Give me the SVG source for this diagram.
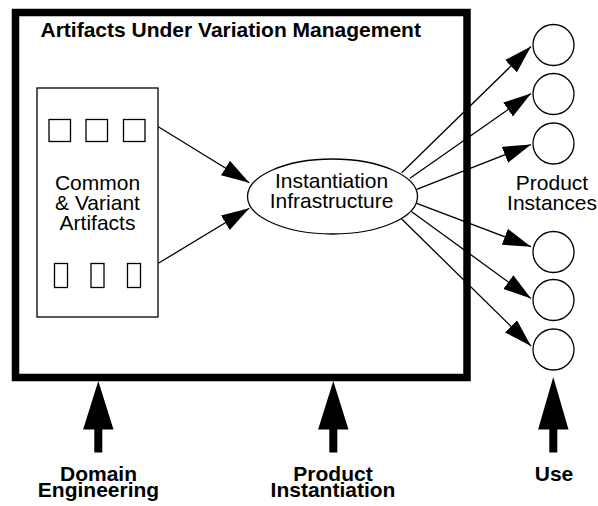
<svg xmlns="http://www.w3.org/2000/svg" width="598" height="506" viewBox="0 0 598 506">
<style>
.t{font-family:"Liberation Sans",Arial,sans-serif;font-size:21px;fill:#000;text-anchor:middle}
.b{font-weight:bold}
.thin{fill:#fff;stroke:#000;stroke-width:1.3}
.c{fill:none;stroke:#000;stroke-width:1.3;marker-end:url(#ah)}
.fat{fill:#000;stroke:none}
</style>
<defs>
<marker id="ah" markerUnits="userSpaceOnUse" markerWidth="30" markerHeight="20" refX="28" refY="8.5" orient="auto" viewBox="0 0 30 20">
<path d="M0,0 L28,8.5 L0,17 z" fill="#000"/>
</marker>
</defs>
<rect width="598" height="506" fill="#fff"/>
<g id="frame">
<rect x="15.5" y="12.5" width="451.5" height="365" fill="none" stroke="#000" stroke-width="7.5"/>
<text class="t b" x="40.5" y="36.5" style="text-anchor:start">Artifacts Under Variation Management</text>
</g>
<g id="artifacts">
<rect class="thin" x="37" y="88" width="121" height="229"/>
<rect class="thin" x="49" y="119.5" width="21.5" height="22"/>
<rect class="thin" x="86" y="119.5" width="21.5" height="22"/>
<rect class="thin" x="123.5" y="119.5" width="21.5" height="22"/>
<rect class="thin" x="54.5" y="263.5" width="13" height="24"/>
<rect class="thin" x="91" y="263.5" width="13" height="24"/>
<rect class="thin" x="127.5" y="263.5" width="13" height="24"/>
<text class="t" x="97.5" y="189.5">Common</text>
<text class="t" x="97.5" y="209.5">&amp; Variant</text>
<text class="t" x="97.5" y="229.5">Artifacts</text>
</g>
<g id="infrastructure">
<ellipse class="thin" cx="332.5" cy="196.5" rx="85" ry="37.5"/>
<text class="t" x="331.5" y="187.5">Instantiation</text>
<text class="t" x="331.5" y="208">Infrastructure</text>
</g>
<g id="instances">
<circle class="thin" cx="553.5" cy="45" r="20.5"/>
<circle class="thin" cx="553.5" cy="94" r="20.5"/>
<circle class="thin" cx="553.5" cy="143.5" r="20.5"/>
<circle class="thin" cx="553.5" cy="252" r="20.5"/>
<circle class="thin" cx="553.5" cy="300" r="20.5"/>
<circle class="thin" cx="553.5" cy="349.5" r="20.5"/>
<text class="t" x="552" y="189.5">Product</text>
<text class="t" x="552" y="209.5">Instances</text>
</g>
<g id="connectors">
<line class="c" x1="158.3" y1="126.7" x2="249.3" y2="182.7"/>
<line class="c" x1="158.3" y1="263.3" x2="249.3" y2="208.3"/>
<line class="c" x1="401.7" y1="172.7" x2="531" y2="46.5"/>
<line class="c" x1="410" y1="178.3" x2="531" y2="93.5"/>
<line class="c" x1="416.7" y1="189.3" x2="531" y2="144.5"/>
<line class="c" x1="416.7" y1="203.3" x2="531" y2="246.7"/>
<line class="c" x1="411.7" y1="211.7" x2="531" y2="298.5"/>
<line class="c" x1="401.7" y1="219" x2="531" y2="346"/>
</g>
<g id="domain-engineering">
<path class="fat" d="M98.3,381 L113.5,429.5 L102.3,429.5 L102.3,452.5 L94.3,452.5 L94.3,429.5 L83.1,429.5 z"/>
<text class="t b" x="98.5" y="480.5">Domain</text>
<text class="t b" x="98.5" y="496.5">Engineering</text>
</g>
<g id="product-instantiation">
<path class="fat" d="M333.3,381 L348.5,429.5 L337.3,429.5 L337.3,452.5 L329.3,452.5 L329.3,429.5 L318.1,429.5 z"/>
<text class="t b" x="333" y="480.5">Product</text>
<text class="t b" x="333" y="496.5">Instantiation</text>
</g>
<g id="use">
<path class="fat" d="M553.3,377 L568.5,429.5 L557.3,429.5 L557.3,452.5 L549.3,452.5 L549.3,429.5 L538.1,429.5 z"/>
<text class="t b" x="554" y="480.5">Use</text>
</g>
</svg>
